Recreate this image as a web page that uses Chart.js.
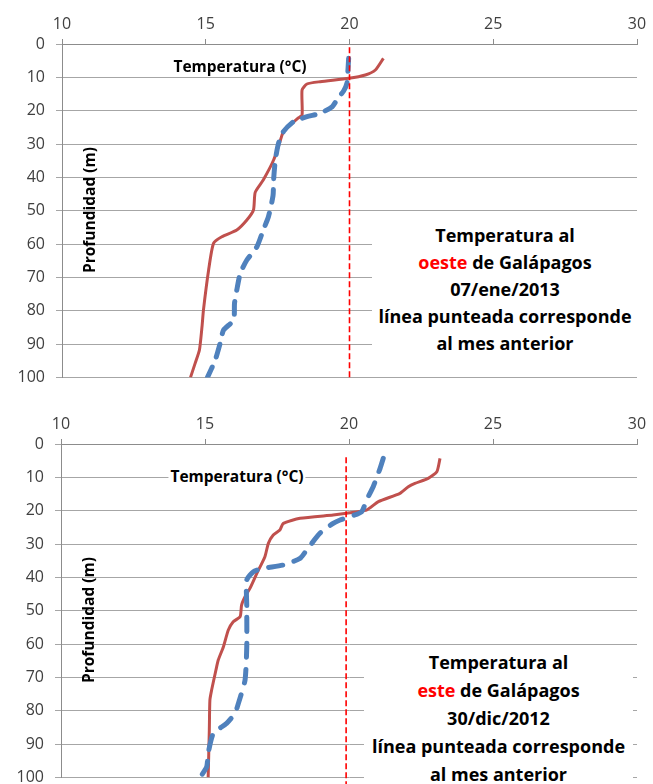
<!DOCTYPE html>
<html><head><meta charset="utf-8">
<script src="https://cdn.jsdelivr.net/npm/chart.js@4/dist/chart.umd.min.js"></script>
<style>
html,body{margin:0;padding:0;background:#fff;width:653px;height:784px;overflow:hidden;font-family:"Open Sans",Lato,sans-serif;position:relative;}
canvas{position:absolute;left:0;}
.lbl{position:absolute;font-weight:bold;font-size:15.5px;color:#000;white-space:nowrap;}
.box{position:absolute;background:#fff;text-align:center;font-weight:bold;font-size:18px;color:#000;}
.box div{white-space:nowrap;}
.red{color:#ff0000;}
</style></head><body>
<canvas id="c1" width="653" height="398" style="top:0"></canvas>
<canvas id="c2" width="653" height="406" style="top:392px"></canvas>
<div class="lbl" style="left:240px;top:66px;transform:translate(-50%,-50%);">Temperatura (°C)</div>
<div class="lbl" style="left:237px;top:476px;transform:translate(-50%,-50%);background:#fff;padding:0 2px;">Temperatura (°C)</div>
<div class="lbl" style="left:89px;top:210px;transform:translate(-50%,-50%) rotate(-90deg);">Profundidad (m)</div>
<div class="lbl" style="left:88px;top:620px;transform:translate(-50%,-50%) rotate(-90deg);">Profundidad (m)</div>
<div class="box" style="left:372px;top:219px;width:266px;height:152px;padding-top:3px;line-height:27px;">
<div>Temperatura al</div><div><span class="red">oeste</span> de Galápagos</div><div>07/ene/2013</div><div>línea punteada corresponde</div><div>al mes anterior</div>
</div>
<div class="box" style="left:364px;top:648px;width:269px;height:136px;line-height:28px;">
<div>Temperatura al</div><div><span class="red">este</span> de Galápagos</div><div>30/dic/2012</div><div>línea punteada corresponde</div><div>al mes anterior</div>
</div>
<script>
// x axis (temperature) ticks and y axis (depth) ticks
const tempTicks = [10, 15, 20, 25, 30];
const depthTicks = [0, 10, 20, 30, 40, 50, 60, 70, 80, 90, 100];

// West of Galápagos, 07/ene/2013 (solid = current)
const westDepthNow = [4.3, 7.8, 9.3, 10.3, 11.3, 12, 13.8, 21.3, 22.3, 24.3, 26.3, 28.8, 34.8, 40.8, 44.5, 49.8, 52.8, 55.8, 57.8, 59.8, 67.8, 79.8, 84.8, 91.8, 95.8, 100];
const westTempNow  = [21.18, 20.9, 20.55, 19.97, 18.98, 18.52, 18.35, 18.35, 18.2, 17.94, 17.7, 17.6, 17.36, 17.0, 16.72, 16.66, 16.43, 16.08, 15.56, 15.27, 15.1, 14.92, 14.87, 14.78, 14.63, 14.47];
// West, previous month (dashed)
const westDepthPrev = [4.3, 7.3, 11.8, 14, 16.8, 18.8, 20.8, 21.8, 23.3, 26.3, 29.8, 34.8, 40.8, 45.5, 51.8, 55.8, 60.8, 64.8, 68.8, 73.8, 77.8, 82.8, 85.8, 89.8, 94.8, 100];
const westTempPrev  = [19.97, 19.95, 19.91, 19.8, 19.56, 19.4, 18.98, 18.52, 18.05, 17.7, 17.53, 17.42, 17.36, 17.34, 17.18, 17.0, 16.78, 16.43, 16.2, 16.08, 16.0, 15.97, 15.62, 15.5, 15.33, 15.06];
// West reference line at 20 °C
const westRefTemp = [20, 20];
const westRefDepth = [1, 100];

// East of Galápagos, 30/dic/2012 (solid = current)
const eastDepthNow = [4.3, 8.3, 10.3, 11.8, 12.8, 14.8, 17.3, 19.8, 20.8, 21.3, 22.3, 23.8, 25.8, 27.3, 29.8, 33.8, 38.8, 43.3, 45.8, 48.3, 51.8, 53.3, 55.8, 60.8, 64.8, 67.8, 73.8, 76.8, 85.8, 100];
const eastTempNow  = [23.16, 23.05, 22.75, 22.29, 22.06, 21.77, 21.02, 20.61, 19.92, 19.45, 18.3, 17.72, 17.6, 17.37, 17.2, 17.08, 16.8, 16.56, 16.39, 16.27, 16.22, 15.98, 15.81, 15.64, 15.46, 15.38, 15.23, 15.17, 15.15, 15.11];
// East, previous month (dashed)
const eastDepthPrev = [4.3, 7.3, 12.8, 16.8, 20.3, 21.8, 22.8, 23.8, 26.8, 31.8, 34.3, 36.3, 37.3, 38.3, 40.8, 48.8, 60.8, 70.8, 77.8, 80.8, 83.8, 86.8, 92.8, 96.8, 100];
const eastTempPrev  = [21.19, 21.08, 20.84, 20.61, 20.44, 20.03, 19.69, 19.45, 18.99, 18.53, 18.3, 17.72, 17.02, 16.68, 16.45, 16.45, 16.45, 16.39, 16.16, 16.04, 15.75, 15.29, 15.11, 15.06, 14.83];
// East reference line
const eastRefTemp = [19.9, 19.9];
const eastRefDepth = [4, 102];

const pts = (t, d) => t.map((v, i) => ({x: v, y: d[i]}));

function makeChart(id, now, prev, ref, pad, ywidth, dashPrev) {
  return new Chart(document.getElementById(id), {
    type: 'scatter',
    data: { datasets: [
      { data: ref, showLine: true, borderColor: '#ff0000', borderWidth: 1.6, borderDash: [6, 3], pointRadius: 0, tension: 0, clip: false },
      { data: prev, showLine: true, borderColor: '#4f81bd', borderWidth: 5, borderDash: dashPrev, borderCapStyle: 'round', pointRadius: 0, tension: 0.2 },
      { data: now, showLine: true, borderColor: '#c0504d', borderWidth: 3, pointRadius: 0, tension: 0.2 }
    ]},
    options: {
      responsive: false, animation: false, devicePixelRatio: 1,
      layout: { padding: pad, autoPadding: false },
      plugins: { legend: { display: false }, tooltip: { enabled: false } },
      scales: {
        x: {
          type: 'linear', position: 'top', min: 10, max: 30,
          afterBuildTicks: s => { s.ticks = tempTicks.map(v => ({value: v})); },
          afterFit: s => { s.height = 44; },
          grid: { drawOnChartArea: false, drawTicks: true, tickLength: 5, color: '#8c8c8c' },
          border: { color: '#8c8c8c', width: 1 },
          ticks: { color: '#404040', font: { family: 'Open Sans', size: 16 }, padding: 5, maxRotation: 0 }
        },
        y: {
          type: 'linear', reverse: true, min: 0, max: 100,
          afterBuildTicks: s => { s.ticks = depthTicks.map(v => ({value: v})); },
          afterFit: s => { s.width = ywidth; },
          grid: { color: '#a6a6a6', lineWidth: 1, tickLength: 6 },
          border: { color: '#8c8c8c', width: 1 },
          ticks: { color: '#404040', font: { family: 'Open Sans', size: 16 }, padding: 11 }
        }
      }
    }
  });
}

makeChart('c1', pts(westTempNow, westDepthNow), pts(westTempPrev, westDepthPrev), pts(westRefTemp, westRefDepth),
  { left: 0, right: 16, top: 0, bottom: 15 }, 62, [13, 11]);
makeChart('c2', pts(eastTempNow, eastDepthNow), pts(eastTempPrev, eastDepthPrev), pts(eastRefTemp, eastRefDepth),
  { left: 0, right: 16, top: 8, bottom: 7 }, 61, [14, 12]);
</script>
</body></html>
